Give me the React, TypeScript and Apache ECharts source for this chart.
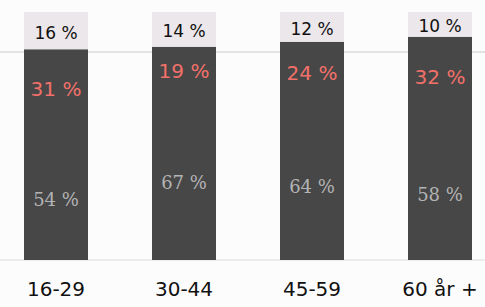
import React, { useEffect, useRef } from "react";
import * as echarts from "echarts";

const categories = ["16-29", "30-44", "45-59", "60 år +"];
const bottomValues = [54, 67, 64, 58];
const middleValues = [31, 19, 24, 32];
const topValues = [16, 14, 12, 10];

export default function App() {
  const ref = useRef<HTMLDivElement>(null);
  useEffect(() => {
    if (!ref.current) return;
    const chart = echarts.init(ref.current, null, { renderer: "svg" });
    const font = "DejaVu Sans";
    const dark = "#474747";
    const darkTotals = bottomValues.map((v, i) => v + middleValues[i]);
    chart.setOption({
      animation: false,
      backgroundColor: "#fcfcfc",
      grid: { left: 0, right: 0, top: 12, bottom: 47 },
      xAxis: {
        type: "category",
        data: categories,
        axisTick: { show: false },
        axisLine: { show: true, lineStyle: { color: "#ececec", width: 2 } },
        axisLabel: { fontSize: 20, color: "#111", fontFamily: font, margin: 19 },
      },
      yAxis: {
        type: "value",
        min: 0,
        max: 100,
        show: false,
        splitLine: { show: false },
      },
      graphic: [
        {
          type: "line",
          z: 0,
          shape: { x1: 0, y1: 52, x2: 512, y2: 52 },
          style: { stroke: "#e2e2e2", lineWidth: 2 },
        },
      ],
      series: [
        {
          type: "bar",
          data: darkTotals,
          barWidth: 64,
          barGap: "-100%",
          silent: true,
          itemStyle: { color: dark },
        },
        {
          type: "bar",
          stack: "a",
          data: bottomValues,
          barWidth: 64,
          barGap: "-100%",
          itemStyle: { color: "rgba(0,0,0,0)" },
          label: {
            show: true,
            position: "inside",
            formatter: "{c} %",
            color: "#b4b4b4",
            fontSize: 18,
            fontFamily: "DejaVu Serif",
            offset: [0, 6],
          },
        },
        {
          type: "bar",
          stack: "a",
          data: middleValues,
          barWidth: 64,
          barGap: "-100%",
          itemStyle: { color: "rgba(0,0,0,0)" },
          label: {
            show: true,
            position: "inside",
            formatter: "{c} %",
            color: "#f2706a",
            fontSize: 20,
            fontFamily: font,
            offset: [0, 1],
          },
        },
        {
          type: "bar",
          stack: "a",
          data: topValues,
          barWidth: 64,
          barGap: "-100%",
          itemStyle: { color: "#ebe7ea" },
          label: {
            show: true,
            position: "inside",
            formatter: "{c} %",
            color: "#111",
            fontSize: 17,
            fontFamily: font,
            offset: [0, 2],
          },
        },
      ],
    });
    return () => chart.dispose();
  }, []);
  return (
    <div
      ref={ref}
      style={{ position: "fixed", left: -8, top: 0, width: 512, height: 307 }}
    />
  );
}
